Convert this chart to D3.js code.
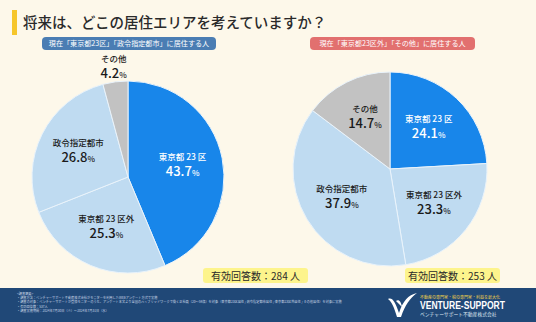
<!DOCTYPE html>
<html>
<head>
<meta charset="utf-8">
<script src="https://cdn.jsdelivr.net/npm/d3@7"></script>
<style>
  body { margin: 0; background: #fdf8ea; }
  svg { display: block; font-family: "Noto Sans CJK JP", "Noto Sans", sans-serif; }
</style>
</head>
<body>
<div id="chart"></div>
<script>
// data
var titleText = "将来は、どこの居住エリアを考えていますか？"
var categories = ["東京都 23 区", "東京都 23 区外", "政令指定都市", "その他"]
var leftValues = [43.7, 25.3, 26.8, 4.2]
var rightValues = [24.1, 23.3, 37.9, 14.7]
var leftHeader = "現在「東京都23区」「政令指定都市」に居住する人"
var rightHeader = "現在「東京都23区外」「その他」に居住する人"
var leftCount = "有効回答数：284 人"
var rightCount = "有効回答数：253 人"
var footerLines = [
    "<調査概要>",
    "・調査方法：ベンチャーサポート不動産株式会社がモニターを利用したWEBアンケート方式で実施",
    "・調査の対象：ベンチャーサポートが登録モニターのうち、アンケート本文より全国のハイブリッドワークで働く正社員（20～59歳）を対象（東京都23区居住 / 政令指定都市居住 / 東京都23区外居住 / その他居住）を対象に実施",
    "・有効回答数：537人",
    "・調査実施期間：2024年7月30日（火）～2024年7月31日（水）"
]

var width = 536, height = 322
var colors = ["#1886ea", "#bfdbf1", "#bfdbf1", "#c2c2c2"]
var textColors = ["#ffffff", "#1a1a1a", "#1a1a1a", "#1a1a1a"]

const svg = d3.select("#chart")
    .append("svg")
    .attr("width", width)
    .attr("height", height)

svg.append("rect").attr("width", width).attr("height", height).attr("fill", "#fdf8ea")

// title
svg.append("rect").attr("x", 12).attr("y", 10).attr("width", 5).attr("height", 25).attr("fill", "#f6c62b")
svg.append("text")
    .attr("x", 23).attr("y", 28)
    .attr("font-size", 14.5)
    .attr("font-weight", 500)
    .attr("fill", "#2a2a2a")
    .text(titleText)

function header(x, w, text, fill) {
    svg.append("rect")
        .attr("x", x).attr("y", 37).attr("width", w).attr("height", 13)
        .attr("rx", 4).attr("fill", fill)
    svg.append("text")
        .attr("x", x + w / 2).attr("y", 46)
        .attr("text-anchor", "middle")
        .attr("font-size", 7.1)
        .attr("fill", "#ffffff")
        .text(text)
}
header(42, 174, leftHeader, "#4a7db3")
header(310, 165, rightHeader, "#e2706f")

function drawPie(values, cx, cy, r) {
    var pie = d3.pie().sort(null).value(d => d)
    var arcs = pie(values)
    var arc = d3.arc().innerRadius(0).outerRadius(r)
    var labelArc = d3.arc().innerRadius(r * 0.58).outerRadius(r * 0.58)
    var outerArc = d3.arc().innerRadius(r + 13).outerRadius(r + 13)

    var g = svg.append("g").attr("transform", "translate(" + cx + "," + cy + ")")
    g.selectAll("path")
        .data(arcs)
        .enter()
        .append("path")
        .attr("d", arc)
        .attr("fill", (d, i) => colors[i])
        .attr("stroke", "#e9f3fb")
        .attr("stroke-width", 1)

    arcs.forEach((d, i) => {
        var p = d.data < 8 ? outerArc.centroid(d) : labelArc.centroid(d)
        g.append("text")
            .attr("x", p[0]).attr("y", p[1] - 6.5)
            .attr("text-anchor", "middle")
            .attr("fill", textColors[i])
            .attr("font-size", 8.5)
            .attr("font-weight", 500)
            .text(categories[i])
        var t = g.append("text")
            .attr("x", p[0]).attr("y", p[1] + 9.5)
            .attr("text-anchor", "middle")
            .attr("fill", textColors[i])
            .attr("font-weight", 500)
        t.append("tspan")
            .attr("font-size", 13)
            .text(d3.format(".1f")(d.data))
        t.append("tspan")
            .attr("font-size", 8)
            .text("%")
    })
}
drawPie(leftValues, 128, 177, 96)
drawPie(rightValues, 390, 169, 97)

function countLabel(x, w, text) {
    svg.append("rect")
        .attr("x", x).attr("y", 268).attr("width", w).attr("height", 15)
        .attr("rx", 3).attr("fill", "#fdf48c")
    svg.append("text")
        .attr("x", x + w / 2).attr("y", 279.5)
        .attr("text-anchor", "middle")
        .attr("font-size", 10)
        .attr("fill", "#2a2a2a")
        .text(text)
}
countLabel(203, 105, leftCount)
countLabel(405, 95, rightCount)

// footer
svg.append("rect").attr("x", 0).attr("y", 288).attr("width", width).attr("height", height - 288).attr("fill", "#204877")
svg.append("g")
    .selectAll("text")
    .data(footerLines)
    .enter()
    .append("text")
    .attr("x", 17)
    .attr("y", (d, i) => 295 + i * 4.2)
    .attr("font-size", 3.2)
    .attr("fill", "#c9d6e6")
    .text(d => d)

// logo
var logo = svg.append("g").attr("transform", "translate(386,293)")
logo.append("path")
    .attr("d", "M2,6 C6,4 9,8 13,20 C17,8 22,2 31,0 C24,5 19,12 15,24 L11,24 C8,14 6,9 2,6 Z")
    .attr("fill", "#ffffff")
logo.append("path")
    .attr("d", "M10,8 C13,6 15,9 16,14 C14,12 12,10 10,8 Z")
    .attr("fill", "#ffffff")
svg.append("text")
    .attr("x", 420).attr("y", 298.5)
    .attr("font-size", 4)
    .attr("fill", "#f3d34a")
    .text("不動産の専門家・税の専門家・利益を最大化")
svg.append("text")
    .attr("x", 420).attr("y", 309)
    .attr("font-size", 10)
    .attr("font-weight", 700)
    .attr("fill", "#ffffff")
    .attr("font-family", "Liberation Sans, sans-serif")
    .attr("textLength", 85)
    .attr("lengthAdjust", "spacingAndGlyphs")
    .text("VENTURE-SUPPORT")
svg.append("text")
    .attr("x", 420).attr("y", 315.5)
    .attr("font-size", 4.8)
    .attr("fill", "#dfe7f1")
    .text("ベンチャーサポート不動産株式会社")
</script>
</body>
</html>
